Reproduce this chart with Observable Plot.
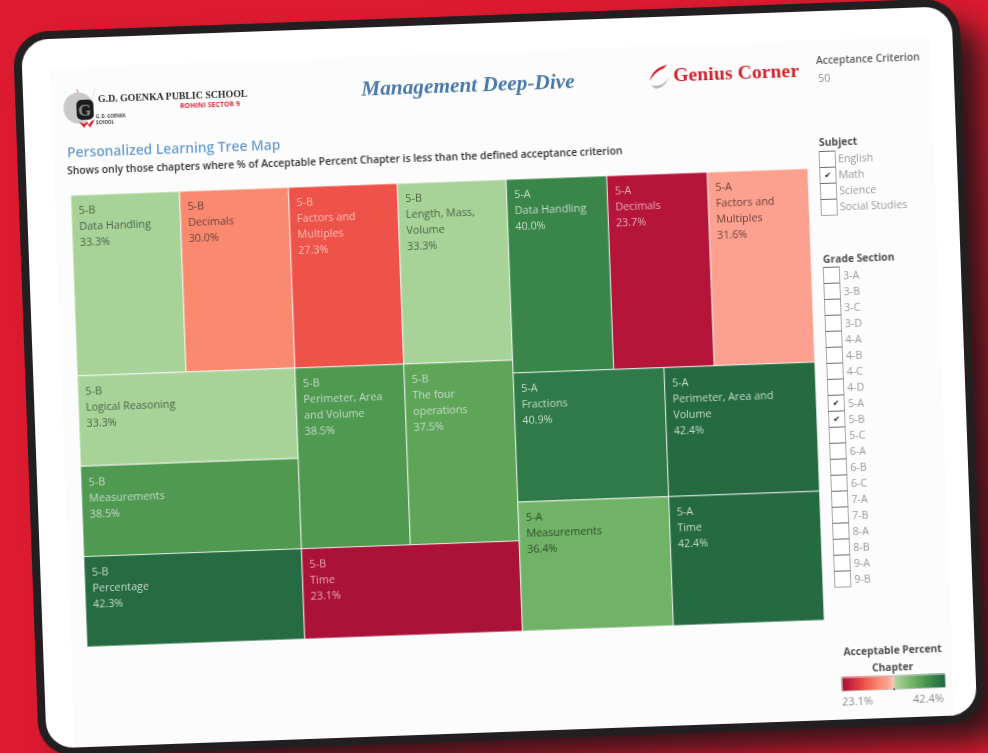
<!DOCTYPE html>
<html>
<head>
<meta charset="utf-8">
<script src="https://cdn.jsdelivr.net/npm/d3@7"></script>
<script src="https://cdn.jsdelivr.net/npm/@observablehq/plot@0.6"></script>
<style>
html,body{margin:0;padding:0;width:988px;height:753px;overflow:hidden;background:#dc1a30;font-family:"Open Sans",sans-serif}
#card{position:absolute;left:21.2px;top:40px;width:931px;height:709px;box-sizing:content-box;background:#fff;border-radius:27px;transform-origin:0 0;transform:rotate(-2.08deg);
 box-shadow:0 0 0 8px #231f20, 24px 22px 30px 4px rgba(35,20,22,.92);filter:blur(.3px)}
#card>*{position:absolute}
.t{white-space:nowrap;line-height:1}
.box{width:17px;height:17px;border:1.2px solid #a8a8a8;border-top-color:#6e6e6e;box-sizing:border-box;background:#fff;text-align:center;font-size:8px;line-height:14px;color:#111}
</style>
</head>
<body>
<div id="card"></div>
<script>
// ---------- data ----------
const criterion = 50;
const subjects = ["English", "Math", "Science", "Social Studies"];
const subjectsChecked = ["Math"];
const gradeSections = ["3-A","3-B","3-C","3-D","4-A","4-B","4-C","4-D","5-A","5-B","5-C","6-A","6-B","6-C","7-A","7-B","8-A","8-B","9-A","9-B"];
const gradesChecked = ["5-A","5-B"];

const chapters5B = ["Data Handling","Decimals","Factors and\nMultiples","Length, Mass,\nVolume","Logical Reasoning","Measurements","Percentage","Perimeter, Area\nand Volume","The four\noperations","Time"];
const percent5B  = [33.3,30.0,27.3,33.3,33.3,38.5,42.3,38.5,37.5,23.1];
const size5B     = [100,100,100,100,100,100,100,100,100,100];

const chapters5A = ["Data Handling","Decimals","Factors and\nMultiples","Fractions","Measurements","Perimeter, Area and\nVolume","Time"];
const percent5A  = [40.0,23.7,31.6,40.9,36.4,42.4,42.4];
const size5A     = [99,99,99,99,99,99,99];

// colour ramp stops
const colorStops  = [23.1,23.7,27.3,30.0,31.6,32.75,33.3,36.4,37.5,38.5,40.0,40.9,42.4];
const colorValues = ["#ab1238","#b51538","#ee5249","#f98a70","#fca18f","#fdc4b4","#a8d398","#70b366","#5fa558","#4f9950","#3a8549","#2f7a48","#256a40"];

// ---------- nesting of the treemap: columns and rows, by chapter index ----------
const nest5B = [[0,1,2,3],[[4,5,6],[[7,8],9]]];
const nest5A = [[0,1,2],[[3,4],[5,6]]];

const build = (section, names, pct, size) => {
  const walk = n => Array.isArray(n)
    ? {children: n.map(walk)}
    : {section, chapter: names[n], percent: pct[n], size: size[n]};
  return walk;
};
const tree = {children: [
  build("5-B", chapters5B, percent5B, size5B)(nest5B),
  build("5-A", chapters5A, percent5A, size5A)(nest5A)
]};
const W = 737.7, H = 452;
const tile = (node, x0, y0, x1, y1) =>
  (node.depth % 2 ? d3.treemapSlice : d3.treemapDice)(node, x0, y0, x1, y1);
const root = d3.treemap().tile(tile).size([W, H]).round(false)(
  d3.hierarchy(tree).sum(d => d.size || 0)
);
const cells = root.leaves().map(l => ({...l.data, x0:l.x0, x1:l.x1, y0:l.y0, y1:l.y1}));
const fmt = d3.format(".1f");
const inkFor = p => p <= 24 ? "#e6a8b4" : p < 29 ? "#f8c0b8" : p < 32 ? "#6d3f38" : p < 36 ? "#4a6446" : p < 37 ? "#2f4f2e" : "#c4dcc8";

const colorScale = {type:"linear", domain:colorStops, range:colorValues, interpolate:"rgb"};

const chart = Plot.plot({
  width:W, height:H, margin:0,
  style:{background:"transparent",overflow:"visible"},
  x:{domain:[0,W],range:[0,W],axis:null},
  y:{domain:[0,H],range:[0,H],axis:null},
  color:colorScale,
  marks:[
    Plot.rect(cells,{x1:"x0",x2:"x1",y1:"y0",y2:"y1",fill:"percent",stroke:"#fff",strokeWidth:1,strokeOpacity:.75}),
    Plot.text(cells,{x:"x0",y:"y0",dx:7,dy:7.5,
      text:d=>`${d.section}\n${d.chapter}\n${fmt(d.percent)}%`,
      textAnchor:"start",lineAnchor:"top",lineHeight:1.48,
      fontSize:10.8,fontFamily:"'Open Sans',sans-serif",
      fill:d=>inkFor(d.percent)})
  ]
});

// ---------- placement helpers: image point -> card coordinates ----------
const card = document.getElementById("card");
const c=Math.cos(2.08*Math.PI/180), s=Math.sin(2.08*Math.PI/180);
const P=(x,y)=>[(x-21.2)*c-(y-40)*s,(x-21.2)*s+(y-40)*c];
const put=(el,x,y)=>{const [u,v]=P(x,y);el.style.left=u+"px";el.style.top=v+"px";card.appendChild(el);return el;};
const label=(txt,x,y,css)=>{const e=document.createElement("div");e.className="t";e.textContent=txt;e.style.cssText=css;return put(e,x,y);};
const html=(h,x,y)=>{const e=document.createElement("div");e.innerHTML=h;return put(e,x,y);};

// dashboard tint
const tint=document.createElement("div");tint.style.cssText="width:880px;height:680px;background:#fcfcfc";put(tint,50,68);

chart.style.display="block";
put(chart,71.3,195.7);

// header
label("Management Deep-Dive",361,76.5,"font:italic bold 21.3px 'Liberation Serif',serif;color:#4a79a9");
label("G.D. GOENKA PUBLIC SCHOOL",98,93.5,"font:bold 9.85px 'Liberation Serif',serif;color:#2b2b2b");
label("ROHINI SECTOR 9",180,101,"font:bold 7px 'Open Sans',sans-serif;color:#d32f3f");
html(`<svg width="56" height="50" style="display:block;overflow:visible">
<line x1="15" y1="0" x2="22" y2="24" stroke="#d9474f" stroke-width=".7"/><line x1="33" y1="0" x2="26" y2="24" stroke="#ddd" stroke-width=".7"/>
<ellipse cx="16" cy="19" rx="15" ry="15.5" fill="#c9c9c9"/>
<rect x="14" y="11" width="17" height="20" rx="5" fill="#1c1c1c"/>
<text x="22" y="27" font-family="Liberation Serif" font-weight="700" font-size="17" fill="#8c8c8c" text-anchor="middle">G</text>
<path d="M16 33l5 6 3-4 3 4 5-8-4 2-2 3-2-3-3 2z" fill="#d4202c"/>
<text x="33" y="30" font-family="Open Sans" font-weight="700" font-size="4.4" fill="#444">G. D. GOENKA</text>
<text x="33" y="36" font-family="Open Sans" font-weight="700" font-size="4.4" fill="#444">SCHOOL</text></svg>`,62,90);
html(`<svg width="24" height="26" style="display:block;overflow:visible">
<path d="M19 1C9 3 2 9 1 17c3-6 9-11 14-12z" fill="#d8202c"/>
<path d="M2 21c6 2 14 0 18-7-3 8-10 12-15 10z" fill="#b9b9b9"/></svg>`,648,64);
label("Genius Corner",673,64,"font:bold 19.5px 'Liberation Serif',serif;color:#d1212b;letter-spacing:.15px");
label("Acceptance Criterion",816,53,"font:600 10.3px 'Open Sans',sans-serif;color:#5b5b5b");
label("50",818,71,"font:400 10.6px 'Open Sans',sans-serif;color:#8d8d8d");

// chart title
label("Personalized Learning Tree Map",67,142.5,"font:600 13.8px 'Open Sans',sans-serif;color:#6c9fcf");
label("Shows only those chapters where % of Acceptable Percent Chapter is less than the defined acceptance criterion",67,163.5,"font:600 10.35px 'Open Sans',sans-serif;color:#333");

// filters
label("Subject",819,135.5,"font:700 10.4px 'Open Sans',sans-serif;color:#4d4d4d");
subjects.forEach((n,i)=>{
  const x=819+i*.58,y=151+i*15.95;
  const b=document.createElement("div");b.className="box";b.textContent=subjectsChecked.includes(n)?"✔":"";put(b,x,y);
  label(n,x+19,y+0.5,"font:400 10.6px 'Open Sans',sans-serif;color:#9a9a9a");
});
label("Grade Section",823,252,"font:700 10.3px 'Open Sans',sans-serif;color:#4d4d4d");
gradeSections.forEach((n,i)=>{
  const x=823+i*.6,y=267+i*16;
  const b=document.createElement("div");b.className="box";b.textContent=gradesChecked.includes(n)?"✔":"";put(b,x,y);
  label(n,x+20,y+1,"font:400 10.6px 'Open Sans',sans-serif;color:#9a9a9a");
});

// colour legend, through the same colour scale
label("Acceptable Percent",843.5,645,"font:700 10.2px 'Open Sans',sans-serif;color:#4d4d4d");
label("Chapter",872,660.5,"font:700 10.3px 'Open Sans',sans-serif;color:#4d4d4d");
const legendRamp = colorStops.slice(0,-1).flatMap((v,i)=>{
  const out=[];const n=Math.ceil((colorStops[i+1]-v)/0.1);
  for(let k=0;k<n;k++) out.push({a:v+(colorStops[i+1]-v)*k/n,b:v+(colorStops[i+1]-v)*(k+1)/n});
  return out;
});
const legend = Plot.plot({
  width:103,height:13,margin:0,
  style:{background:"transparent",overflow:"visible"},
  x:{domain:[23.1,42.4],axis:null},
  y:{domain:[0,1],axis:null},
  color:colorScale,
  marks:[Plot.rect(legendRamp,{x1:"a",x2:"b",y1:0,y2:1,fill:"a",stroke:"a",strokeWidth:.6}),
         Plot.frame({stroke:"#bbb",strokeWidth:.7}),
         Plot.dot([32.75],{x:d=>d,frameAnchor:"bottom",r:1,fill:"#444"})]
});
legend.style.display="block";
put(legend,842,677.5);
label("23.1%",842,694,"font:400 11px 'Open Sans',sans-serif;color:#8a8a8a");
label("42.4%",913,691.5,"font:400 11px 'Open Sans',sans-serif;color:#8a8a8a");
</script>
</body>
</html>
